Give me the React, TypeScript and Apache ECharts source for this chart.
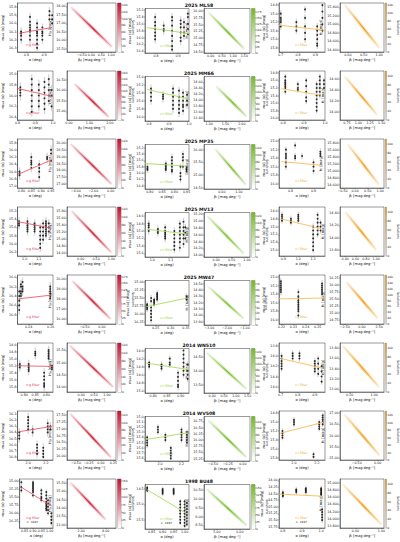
import React, { useEffect, useRef } from "react";
import * as echarts from "echarts";

const OBJECTS = ["2025 ML58", "2025 MM66", "2025 MP35", "2025 MV13", "2025 MW47", "2014 WN510", "2014 WV508", "1998 BU48"];

// ---------------- g filter ----------------
const gStacks: number[][][] = [
  [[0.77, 16.1, 16.15, 16.2, 16.12], [0.82, 15.92, 15.98, 16.02, 16.05, 16.08, 16.1, 16.15, 16.2], [0.86, 16.0, 16.05, 16.1, 16.12, 16.15, 16.2, 16.25, 16.3], [0.89, 16.05, 16.1, 16.12, 16.15, 16.2], [0.93, 15.85, 15.9, 15.95], [0.945, 15.9, 15.95, 16.0]],
  [[0.816, 15.85, 15.9, 15.95, 16.0], [0.88, 15.7, 15.8, 15.9, 16.0, 16.1, 16.2, 16.3], [0.92, 15.8, 15.9, 16.0, 16.1, 16.2], [0.952, 15.75, 15.85, 15.95, 16.05, 16.15, 16.25], [0.976, 15.7, 15.8, 15.9, 16.0, 16.1], [0.992, 15.9, 16.0, 16.2]],
  [[0.79, 16.6, 16.65, 16.7], [0.85, 16.2, 16.3, 16.35, 16.4, 16.5], [0.89, 16.4, 16.5, 16.6, 16.75], [0.93, 16.2, 16.25], [0.95, 16.0, 16.1, 16.3]],
  [[0.96, 15.45, 15.5, 15.55], [1.02, 15.45, 15.5, 15.55, 15.6, 15.65, 15.7], [1.07, 15.5, 15.55, 15.6, 15.65, 15.7], [1.11, 15.6, 15.7, 15.8, 15.9, 16.0, 16.1], [1.13, 15.5, 15.6, 15.7, 15.8, 15.9], [1.15, 15.45, 15.5, 15.55, 15.6, 15.65, 15.7, 15.75, 15.8], [1.17, 15.5, 15.6, 15.7]],
  [[0.2315, 16.3, 16.4, 16.5, 16.6, 16.7], [0.233, 16.15, 16.2, 16.3, 16.35, 16.4], [0.2345, 16.1, 16.2, 16.25, 16.3], [0.2595, 16.2, 16.25, 16.3, 16.35, 16.4, 16.45]],
  [[0.78, 15.15, 15.2, 15.25], [0.82, 15.15, 15.2, 15.25, 15.3, 15.35], [0.85, 14.8, 14.85, 14.9], [0.89, 15.4, 15.5, 15.6, 15.7, 15.75, 15.8], [0.91, 14.75, 14.8, 14.85, 14.9, 14.95, 15.0], [0.925, 15.2, 15.25, 15.3]],
  [[1.9, 16.4, 16.45, 16.5], [2.0, 16.15, 16.2, 16.25, 16.3, 16.35], [2.05, 16.35, 16.4], [2.1, 16.6, 16.65, 16.7, 16.75], [2.17, 16.65, 16.7, 16.75, 16.8], [2.22, 16.25, 16.3, 16.35, 16.4], [2.25, 16.3, 16.35]],
  [[0.83, 15.05, 15.2, 15.3], [0.9, 15.05, 15.1, 15.15, 15.2, 15.25, 15.3, 15.35, 15.45], [0.95, 15.3, 15.4, 15.5, 15.55, 15.6], [0.98, 15.35, 15.45, 15.55, 15.65, 15.7, 15.75, 15.8, 15.85, 15.9], [0.99, 15.6, 15.7, 15.8, 15.9, 16.0], [1.01, 16.0, 16.1, 16.2, 16.3]],
];
const gErr = [0.05, 0.09, 0.12, 0.1, 0.1, 0.12, 0.07, 0.08];
const gFit = [[0.76, 16.12, 0.945, 16.05], [0.8, 15.87, 1.0, 16.02], [0.785, 16.67, 0.955, 16.27], [0.955, 15.46, 1.19, 15.62], [0.231, 16.46, 0.261, 16.38], [0.775, 15.2, 0.928, 15.22], [1.89, 16.39, 2.27, 16.3], [0.83, 15.2, 1.01, 15.78]];
const gScXRange = [[0.75, 0.95], [0.8, 1.0], [0.78, 0.96], [0.95, 1.2], [0.23, 0.262], [0.77, 0.93], [1.88, 2.28], [0.82, 1.02]];
const gScXTicks = [[0.8, 0.9], [0.8, 0.9, 1.0], [0.8, 0.85, 0.9, 0.95], [1.0, 1.1], [0.24, 0.26], [0.8, 0.85, 0.9], [2.0, 2.2], [0.85, 0.9, 0.95, 1.0]];
const gScYRange = [[15.75, 16.35], [15.55, 16.45], [15.7, 17.05], [15.1, 16.3], [15.95, 17.0], [14.55, 15.95], [16.05, 16.85], [14.95, 16.45]];
const gScYTicks = [[15.8, 15.9, 16.0, 16.1, 16.2, 16.3], [15.6, 15.8, 16.0, 16.2, 16.4], [15.8, 16.0, 16.2, 16.4, 16.6, 16.8, 17.0], [15.2, 15.4, 15.6, 15.8, 16.0, 16.2], [16.0, 16.2, 16.4, 16.6, 16.8], [14.6, 14.8, 15.0, 15.2, 15.4, 15.6, 15.8], [16.1, 16.2, 16.3, 16.4, 16.5, 16.6, 16.7, 16.8], [15.0, 15.25, 15.5, 15.75, 16.0, 16.25]];
const gDenXRange = [[-1.25, 1.25], [-0.1, 2.3], [-5.0, 0.6], [-0.45, 1.15], [-1.0, 0.4], [-0.55, 1.35], [-0.68, 0.3], [0.84, 4.84]];
const gDenXTicks = [[-1.0, -0.5, 0.0, 0.5, 1.0], [0.0, 1.0, 2.0], [-4.0, -2.0, 0.0], [0.0, 0.5, 1.0], [-0.5, 0.0], [0.0, 0.5, 1.0], [-0.5, -0.25, 0.0, 0.25], [2.0, 4.0]];
const gDenYRange = [[15.3, 18.2], [14.6, 16.9], [16.7, 20.3], [14.5, 15.9], [15.5, 20.4], [13.8, 15.8], [15.85, 17.65], [12.8, 15.75]];
const gDenYTicks = [[15.5, 16.0, 16.5, 17.0, 17.5, 18.0], [15.0, 15.5, 16.0, 16.5], [17.0, 17.5, 18.0, 18.5, 19.0, 19.5, 20.0], [14.6, 14.8, 15.0, 15.2, 15.4, 15.6, 15.8], [16.0, 17.0, 18.0, 19.0, 20.0], [14.0, 14.5, 15.0, 15.5], [16.0, 16.25, 16.5, 16.75, 17.0, 17.25, 17.5], [13.0, 13.5, 14.0, 14.5, 15.0, 15.5]];
const gDenYDec = [2, 2, 2, 2, 2, 2, 2, 2];
const gBand = [[-1.05, 17.95, 1.05, 15.6], [0.26, 16.3, 1.95, 14.74], [-4.6, 19.94, 0.1, 16.99], [-0.3, 15.78, 1.0, 14.6], [-0.85, 19.8, 0.25, 16.0], [-0.45, 15.7, 1.25, 14.0], [-0.62, 17.55, 0.2, 15.95], [1.1, 15.55, 4.0, 13.3]];
const gCbar = [[145, 20], [165, 20], [125, 20], [125, 20], [180, 25], [125, 20], [130, 20], [155, 25]];

// ---------------- r filter ----------------
const rStacks: number[][][] = [
  [[0.796, 15.4, 15.55, 15.65, 15.75, 15.85, 15.95, 16.05], [0.835, 15.65, 15.75, 15.8], [0.873, 15.4, 15.5, 15.65, 15.8, 15.95, 16.1, 16.25, 16.35], [0.912, 15.5, 15.6, 15.7, 15.85, 16.0, 16.1], [0.927, 15.55, 15.7, 15.85, 15.95], [0.945, 15.3, 15.4, 15.6, 15.75, 15.9]],
  [[0.81, 15.3, 15.4, 15.5, 15.6], [0.87, 15.45, 15.5, 15.55], [0.92, 15.3, 15.4, 15.5, 15.6, 15.7, 15.8], [0.95, 15.35, 15.5, 15.6, 15.7, 15.8, 15.9], [0.97, 15.4, 15.5, 15.6, 15.7, 15.75, 15.85], [0.99, 15.45, 15.6, 15.7]],
  [[0.79, 15.8, 15.85, 15.9], [0.865, 15.7, 15.75, 15.8, 15.85, 15.9], [0.89, 15.5, 15.6, 15.7, 15.8, 15.9, 15.95], [0.925, 15.8, 16.0, 16.1, 16.2], [0.935, 15.4, 15.5, 15.6, 15.8], [0.95, 15.8, 15.85, 15.9, 15.95]],
  [[0.98, 14.8, 14.85, 14.9, 15.0], [1.03, 14.95, 15.0, 15.05], [1.07, 14.9, 15.0, 15.05, 15.1, 15.15, 15.2], [1.12, 15.0, 15.1, 15.2, 15.3, 15.4, 15.5], [1.15, 14.8, 14.9, 15.0, 15.1, 15.2, 15.3, 15.45], [1.17, 14.75, 14.9, 15.0, 15.1, 15.2, 15.35], [1.18, 14.9, 15.05, 15.2]],
  [[0.222, 15.7, 15.75, 15.8, 15.85], [0.235, 15.5, 15.6, 15.8, 15.9, 16.0, 16.1, 16.2], [0.245, 15.55, 15.6, 15.65, 15.7], [0.255, 15.35, 15.4, 15.45, 15.5, 15.55], [0.352, 15.45, 15.5, 15.55]],
  [[0.785, 14.3, 14.35, 14.4], [0.83, 14.35, 14.4, 14.45], [0.86, 14.2, 14.3, 14.35], [0.89, 14.55, 14.65, 14.75, 14.85, 14.9], [0.91, 14.0, 14.1, 14.2, 14.3, 14.4, 14.5, 14.6], [0.925, 14.35, 14.5, 14.6, 14.7]],
  [[1.88, 15.4, 15.45, 15.5, 15.55], [1.98, 15.2, 15.25, 15.3], [2.05, 15.35, 15.4, 15.45], [2.1, 15.6, 15.65, 15.7, 15.75, 15.8], [2.2, 15.25, 15.3, 15.35, 15.4, 15.45], [2.25, 15.3, 15.35, 15.4, 15.45, 15.5]],
  [[0.83, 14.45, 14.5, 14.55], [0.9, 14.5, 14.55, 14.6, 14.65], [0.95, 14.5, 14.55, 14.6, 14.65], [0.98, 14.9, 15.0, 15.1, 15.2, 15.3, 15.4, 15.5, 15.6], [1.0, 14.9, 15.0, 15.1, 15.2, 15.3, 15.4, 15.5, 15.6, 15.7], [1.01, 14.95, 15.05, 15.15, 15.25, 15.35, 15.45, 15.55, 15.65]],
];
const rErr = [0.12, 0.1, 0.1, 0.1, 0.1, 0.08, 0.05, 0.08];
const rFit = [[0.76, 15.71, 0.95, 15.88], [0.79, 15.32, 0.995, 15.55], [0.78, 15.7, 0.955, 15.78], [0.97, 14.95, 1.19, 15.08], [0.22, 15.77, 0.355, 15.5], [0.775, 14.31, 0.928, 14.47], [1.87, 15.44, 2.26, 15.31], [0.83, 14.52, 1.01, 15.3]];
const rScXRange = [[0.75, 0.95], [0.78, 1.0], [0.78, 0.96], [0.96, 1.2], [0.215, 0.36], [0.77, 0.93], [1.86, 2.27], [0.82, 1.02]];
const rScXTicks = [[0.8, 0.9], [0.8, 0.9, 1.0], [0.8, 0.85, 0.9, 0.95], [1.0, 1.1], [0.25, 0.3, 0.35], [0.8, 0.85, 0.9], [2.0, 2.2], [0.85, 0.9, 0.95, 1.0]];
const rScYRange = [[15.15, 16.45], [15.0, 16.1], [15.1, 16.5], [14.5, 15.7], [14.95, 16.35], [13.95, 15.05], [15.0, 15.85], [14.35, 15.8]];
const rScYTicks = [[15.2, 15.4, 15.6, 15.8, 16.0, 16.2, 16.4], [15.0, 15.2, 15.4, 15.6, 15.8, 16.0], [15.2, 15.4, 15.6, 15.8, 16.0, 16.2, 16.4], [14.6, 14.8, 15.0, 15.2, 15.4, 15.6], [15.0, 15.25, 15.5, 15.75, 16.0, 16.25], [14.0, 14.2, 14.4, 14.6, 14.8, 15.0], [15.0, 15.1, 15.2, 15.3, 15.4, 15.5, 15.6, 15.7, 15.8], [14.5, 15.0, 15.5]];
const rDenXRange = [[-0.3, 1.75], [0.84, 2.25], [-1.05, 1.65], [-0.4, 1.1], [-3.3, -0.7], [-0.35, 1.6], [-0.65, 0.12], [4.44, 6.44]];
const rDenXTicks = [[0.0, 0.5, 1.0, 1.5], [1.0, 1.5, 2.0], [0.0, 1.0], [0.0, 0.5, 1.0], [-3.0, -2.0, -1.0], [0.0, 0.5, 1.0, 1.5], [-0.5, -0.25, 0.0], [5.0, 6.0]];
const rDenYRange = [[14.45, 16.1], [13.3, 14.8], [14.45, 16.2], [13.95, 15.25], [13.85, 14.55], [13.2, 14.8], [15.15, 16.95], [8.3, 10.8]];
const rDenYTicks = [[14.5, 14.75, 15.0, 15.25, 15.5, 15.75, 16.0], [13.4, 13.6, 13.8, 14.0, 14.2, 14.4, 14.6], [14.5, 15.0, 15.5, 16.0], [14.0, 14.2, 14.4, 14.6, 14.8, 15.0, 15.2], [13.9, 14.0, 14.1, 14.2, 14.3, 14.4, 14.5], [13.5, 14.0, 14.5], [15.25, 15.5, 15.75, 16.0, 16.25, 16.5, 16.75], [8.5, 9.0, 9.5, 10.0, 10.5]];
const rDenYDec = [2, 2, 2, 2, 2, 2, 2, 2];
const rBand = [[-0.1, 15.95, 1.5, 14.6], [1.21, 14.47, 2.15, 13.45], [-0.4, 16.02, 1.41, 14.62], [-0.3, 15.15, 0.9, 14.05], [-3.05, 14.45, -1.05, 13.95], [-0.25, 14.65, 1.45, 13.35], [-0.58, 16.8, 0.06, 15.3], [4.55, 10.55, 6.3, 8.5]];
const rCbar = [[190, 25], [150, 20], [130, 20], [130, 20], [75, 10], [150, 20], [135, 20], [160, 25]];

// ---------------- i filter ----------------
const iStacks: number[][][] = [
  [[0.7, 15.0, 15.1, 15.15, 15.2, 15.3], [0.79, 15.2, 15.3, 15.4], [0.84, 14.9, 15.1, 15.3, 15.45, 15.6], [0.91, 15.3, 15.4, 15.5, 15.6, 15.7, 15.75], [0.94, 14.8, 14.95, 15.1, 15.25, 15.4]],
  [[0.81, 14.9, 15.0, 15.05, 15.1, 15.15, 15.2, 15.3], [0.87, 15.1, 15.2, 15.25], [0.91, 15.0, 15.15, 15.3, 15.45, 15.55], [0.96, 15.1, 15.2, 15.3, 15.4, 15.5, 15.6, 15.7, 15.8], [0.975, 14.9, 15.0, 15.1, 15.2, 15.3, 15.4], [0.995, 15.0, 15.1, 15.2]],
  [[0.78, 15.2, 15.3, 15.35, 15.4, 15.5, 15.6], [0.82, 15.1, 15.35, 15.4], [0.85, 15.35], [0.9, 15.5, 15.6, 15.7], [0.93, 15.25, 15.3, 15.35]],
  [[0.89, 14.7, 14.75, 14.8, 14.85], [0.95, 14.8, 14.85, 14.9], [1.0, 14.7, 14.75, 14.8, 14.85], [1.1, 15.0, 15.1, 15.2, 15.3, 15.4, 15.5, 15.6], [1.13, 14.7, 14.8, 14.9, 15.0, 15.1, 15.2], [1.15, 14.9, 15.0, 15.1]],
  [[0.2195, 15.1, 15.15, 15.2, 15.25, 15.3, 15.35], [0.234, 15.35, 15.45, 15.5, 15.55, 15.6, 15.65, 15.7, 15.75, 15.8, 15.9], [0.2535, 15.15, 15.2, 15.25, 15.3, 15.35, 15.4]],
  [[0.705, 14.0, 14.05, 14.1, 14.15, 14.2, 14.25], [0.77, 13.95, 14.0, 14.05], [0.81, 13.95, 14.0, 14.05], [0.9, 14.1, 14.15, 14.2, 14.25, 14.3], [0.92, 14.05, 14.15, 14.25, 14.35], [0.94, 14.2, 14.3, 14.4, 14.5]],
  [[1.9, 15.2, 15.25, 15.3, 15.35], [2.0, 14.95, 15.0, 15.05], [2.17, 15.72, 15.78], [2.22, 15.0, 15.05, 15.1, 15.15], [2.25, 14.85, 14.9, 14.95, 15.0, 15.05]],
  [[0.8, 14.45, 14.5, 14.55, 14.6], [0.87, 14.35, 14.4, 14.45], [0.92, 14.3, 14.35, 14.4, 14.45], [1.0, 14.3, 14.35, 14.4, 14.45, 14.5, 14.55], [1.005, 15.1, 15.2, 15.3, 15.4, 15.5]],
];
const iErr = [0.08, 0.08, 0.08, 0.08, 0.08, 0.06, 0.06, 0.1];
const iFit = [[0.69, 15.27, 0.955, 15.39], [0.79, 15.22, 0.98, 15.39], [0.76, 15.48, 0.94, 15.57], [0.88, 14.8, 1.15, 15.05], [0.218, 15.51, 0.256, 15.49], [0.7, 14.05, 0.95, 14.24], [1.88, 15.25, 2.26, 15.0], [0.78, 14.52, 1.01, 14.6]];
const iScXRange = [[0.69, 0.955], [0.78, 1.0], [0.75, 0.95], [0.87, 1.18], [0.218, 0.256], [0.69, 0.96], [1.87, 2.27], [0.78, 1.02]];
const iScXTicks = [[0.7, 0.8, 0.9], [0.8, 0.9, 1.0], [0.8, 0.9], [0.9, 1.0, 1.1], [0.22, 0.23, 0.24, 0.25], [0.7, 0.8, 0.9], [2.0, 2.2], [0.8, 0.9, 1.0]];
const iScYRange = [[14.75, 15.9], [14.75, 16.05], [14.95, 16.1], [14.5, 15.75], [14.95, 16.1], [13.75, 14.7], [14.75, 15.85], [13.95, 15.8]];
const iScYTicks = [[14.8, 15.0, 15.2, 15.4, 15.6, 15.8], [14.8, 15.0, 15.2, 15.4, 15.6, 15.8, 16.0], [15.0, 15.2, 15.4, 15.6, 15.8, 16.0], [14.6, 14.8, 15.0, 15.2, 15.4, 15.6], [15.0, 15.2, 15.4, 15.6, 15.8, 16.0], [13.8, 14.0, 14.2, 14.4, 14.6], [14.8, 15.0, 15.2, 15.4, 15.6, 15.8], [14.0, 14.25, 14.5, 14.75, 15.0, 15.25, 15.5, 15.75]];
const iDenXRange = [[-0.25, 1.15], [0.6, 1.55], [-0.6, 1.15], [0.3, 1.15], [-3.2, 3.2], [0.3, 1.2], [-0.9, 0.15], [-0.6, 1.1]];
const iDenXTicks = [[0.0, 0.5, 1.0], [0.75, 1.0, 1.25, 1.5], [-0.5, 0.0, 0.5, 1.0], [0.4, 0.6, 0.8, 1.0], [-2.5, 0.0, 2.5], [0.5, 1.0], [-0.5, 0.0], [0.0, 1.0]];
const iDenYRange = [[14.35, 15.5], [13.85, 14.75], [14.5, 15.9], [13.7, 14.5], [14.6, 16.35], [12.95, 13.9], [14.9, 17.1], [13.75, 15.1]];
const iDenYTicks = [[14.4, 14.6, 14.8, 15.0, 15.2, 15.4], [14.0, 14.2, 14.4, 14.6], [14.6, 14.8, 15.0, 15.2, 15.4, 15.6, 15.8], [13.8, 14.0, 14.2, 14.4], [14.75, 15.0, 15.25, 15.5, 15.75, 16.0, 16.25], [13.0, 13.2, 13.4, 13.6, 13.8], [15.0, 15.5, 16.0, 16.5, 17.0], [13.8, 14.0, 14.2, 14.4, 14.6, 14.8, 15.0]];
const iDenYDec = [3, 2, 3, 2, 2, 2, 2, 3];
const iBand = [[-0.1, 15.45, 1.0, 14.45], [0.7, 14.65, 1.4, 13.95], [-0.3, 15.75, 0.95, 14.6], [0.4, 14.42, 1.0, 13.8], [-2.3, 16.1, 2.3, 14.8], [0.35, 13.85, 1.1, 13.05], [-0.8, 16.95, 0.05, 15.1], [-0.5, 14.95, 1.0, 13.85]];
const iCbar = [[125, 20], [110, 20], [110, 20], [110, 20], [165, 20], [110, 20], [130, 20], [110, 20]];

// ---------------- styling / layout ----------------
const FONT = "DejaVu Sans";
const FILTER_NAMES = ["g", "r", "i"];
const TEXT_COL = ["#e8334a", "#8ccf3a", "#f7a928"];
const LINE_COL = ["#f05a6c", "#a6dc5e", "#fbbb58"];
const BAND_RGB = [[206, 20, 40], [110, 185, 30], [240, 150, 10]];
const CB_TOP = ["#c8102e", "#70bb22", "#f29a00"];
const ROW0 = 3;
const PITCH = 68;
const SC_LEFT = [13, 145, 279];
const SC_W = [40, 44, 46];
const DEN_LEFT = [67, 204, 340];
const DEN_W = [49, 46, 44];
const CB_LEFT = [117.5, 251.5, 385.5];
const CB_W = 3.5;
const TICK_FS = 3.3;
const NAME_FS = 3.6;

function decOf(v: number) {
  const s = String(+v.toFixed(6));
  const k = s.indexOf(".");
  return k < 0 ? 0 : s.length - k - 1;
}
function maxDec(t: number[]) {
  return Math.max(1, ...t.map(decOf));
}
function labelWidth(s: string, fs: number) {
  let w = 0;
  for (const c of s) w += c === "." ? 0.318 : c === "-" || c === "−" ? 0.42 : 0.636;
  return w * fs;
}

const FILTERS = [
  { stacks: gStacks, err: gErr, fit: gFit, scX: gScXRange, scXT: gScXTicks, scY: gScYRange, scYT: gScYTicks, dX: gDenXRange, dXT: gDenXTicks, dY: gDenYRange, dYT: gDenYTicks, dYD: gDenYDec, band: gBand, cb: gCbar },
  { stacks: rStacks, err: rErr, fit: rFit, scX: rScXRange, scXT: rScXTicks, scY: rScYRange, scYT: rScYTicks, dX: rDenXRange, dXT: rDenXTicks, dY: rDenYRange, dYT: rDenYTicks, dYD: rDenYDec, band: rBand, cb: rCbar },
  { stacks: iStacks, err: iErr, fit: iFit, scX: iScXRange, scXT: iScXTicks, scY: iScYRange, scYT: iScYTicks, dX: iDenXRange, dXT: iDenXTicks, dY: iDenYRange, dYT: iDenYTicks, dYD: iDenYDec, band: iBand, cb: iCbar },
];

function fmt(v: number, d: number) {
  return v.toFixed(d).replace("-", "−");
}

function valueAxis(gridIndex: number, min: number, max: number, ticks: number[], dec: number, extra: any = {}) {
  return {
    type: "value",
    gridIndex,
    min,
    max,
    splitLine: { show: false },
    axisLine: { show: true, onZero: false, lineStyle: { color: "#333", width: 0.5 } },
    axisTick: { show: true, length: 1.2, customValues: ticks, lineStyle: { color: "#333", width: 0.4 } },
    axisLabel: {
      show: true,
      customValues: ticks,
      fontSize: TICK_FS,
      fontFamily: FONT,
      color: "#222",
      margin: 1.3,
      formatter: (v: number) => fmt(v, dec),
    },
    nameTextStyle: { fontSize: NAME_FS, fontFamily: FONT, color: "#111" },
    ...extra,
  };
}

function buildOption() {
  const grid: any[] = [];
  const xAxis: any[] = [];
  const yAxis: any[] = [];
  const series: any[] = [];
  const graphic: any[] = [];

  for (let i = 0; i < OBJECTS.length; i++) {
    const rowTop = ROW0 + PITCH * i;
    graphic.push({
      type: "text",
      x: 199,
      y: rowTop + 0.3,
      style: { text: OBJECTS[i], fontSize: 4.6, fontWeight: "bold", fontFamily: FONT, fill: "#111", align: "center", verticalAlign: "top" },
    });

    FILTERS.forEach((F, f) => {
      const top = rowTop + (f === 1 ? 5.5 : 0);
      const h = f === 1 ? 44.5 : 49;
      const fname = FILTER_NAMES[f];

      // ---- scatter panel ----
      const gs = grid.length;
      grid.push({ left: SC_LEFT[f], top, width: SC_W[f], height: h, show: true, borderColor: "#333", borderWidth: 0.5, backgroundColor: "#fff" });
      const xd = maxDec(F.scXT[i]);
      const yd = maxDec(F.scYT[i]);
      xAxis.push(valueAxis(gs, F.scX[i][0], F.scX[i][1], F.scXT[i], xd, { name: "α (deg)", nameLocation: "middle", nameGap: 6.2 }));
      const yLabW = Math.max(...F.scYT[i].map((v) => labelWidth(fmt(v, yd), TICK_FS)));
      yAxis.push(
        valueAxis(gs, F.scY[i][0], F.scY[i][1], F.scYT[i], yd, {
          inverse: true,
          name: "{a|m}{b|red} (α) [mag]",
          nameLocation: "middle",
          nameGap: yLabW + 3.2,
          nameTextStyle: { fontSize: NAME_FS, fontFamily: FONT, color: "#111", rich: { a: { fontSize: NAME_FS, fontFamily: FONT }, b: { fontSize: 2.6, fontFamily: FONT, verticalAlign: "bottom" } } },
        })
      );
      const pts: number[][] = [];
      const errPts: number[][] = [];
      F.stacks[i].forEach((st) => {
        for (let k = 1; k < st.length; k++) {
          pts.push([st[0], st[k]]);
          errPts.push([st[0], st[k], F.err[i]]);
        }
      });
      series.push({
        type: "custom",
        xAxisIndex: gs,
        yAxisIndex: gs,
        clip: true,
        encode: { x: 0, y: 1 },
        data: errPts,
        renderItem: (_p: any, api: any) => {
          const x = api.value(0), y = api.value(1), e = api.value(2);
          const p1 = api.coord([x, y - e]);
          const p2 = api.coord([x, y + e]);
          return { type: "line", shape: { x1: p1[0], y1: p1[1], x2: p2[0], y2: p2[1] }, style: { stroke: "#d2d2d2", lineWidth: 1.2 } };
        },
        silent: true,
        z: 1,
      });
      series.push({ type: "scatter", xAxisIndex: gs, yAxisIndex: gs, data: pts, symbolSize: 1.9, itemStyle: { color: "#000" }, silent: true, z: 3 });
      const ft = F.fit[i];
      series.push({ type: "line", xAxisIndex: gs, yAxisIndex: gs, data: [[ft[0], ft[1]], [ft[2], ft[3]]], symbol: "none", lineStyle: { color: LINE_COL[f], width: 0.9 }, silent: true, z: 4 });

      // filter label (legend-like)
      const cx = SC_LEFT[f] + SC_W[f] * 0.5;
      const ly = top + h - (i === 7 ? 10 : 7);
      graphic.push({ type: "line", shape: { x1: cx - 7, y1: ly, x2: cx - 4.5, y2: ly }, style: { stroke: LINE_COL[f], lineWidth: 0.7 } });
      graphic.push({ type: "text", x: cx - 4, y: ly, style: { text: `${fname} filter`, fontSize: 3.2, fontFamily: FONT, fill: TEXT_COL[f], align: "left", verticalAlign: "middle" } });
      if (i === 7) {
        graphic.push({ type: "text", x: cx - 6.5, y: ly + 3.8, style: { text: "×  1997", fontSize: 2.9, fontFamily: FONT, fill: "#222", align: "left", verticalAlign: "middle" } });
      }

      // ---- density panel ----
      const gd = grid.length;
      grid.push({ left: DEN_LEFT[f], top, width: DEN_W[f], height: h, show: true, borderColor: "#333", borderWidth: 0.5, backgroundColor: "#fff" });
      xAxis.push(valueAxis(gd, F.dX[i][0], F.dX[i][1], F.dXT[i], 2, { name: `{a|β}{b|${fname}} [mag deg⁻¹]`, nameLocation: "middle", nameGap: 6.2, nameTextStyle: { fontSize: NAME_FS, fontFamily: FONT, color: "#111", rich: { a: { fontSize: NAME_FS, fontFamily: FONT }, b: { fontSize: 2.6, fontFamily: FONT, verticalAlign: "bottom" } } } }));
      const dyd = F.dYD[i];
      const dLabW = Math.max(...F.dYT[i].map((v) => labelWidth(fmt(v, dyd), TICK_FS)));
      yAxis.push(
        valueAxis(gd, F.dY[i][0], F.dY[i][1], F.dYT[i], dyd, {
          name: `{a|H}{b|${fname}} [mag]`,
          nameLocation: "middle",
          nameGap: dLabW + 3,
          nameTextStyle: { fontSize: NAME_FS, fontFamily: FONT, color: "#111", rich: { a: { fontSize: NAME_FS, fontFamily: FONT }, b: { fontSize: 2.6, fontFamily: FONT, verticalAlign: "bottom" } } },
        })
      );
      const b = F.band[i];
      const [cr, cg, cbb] = BAND_RGB[f];
      const rgba = (a: number) => `rgba(${cr},${cg},${cbb},${a})`;
      series.push({
        type: "line", xAxisIndex: gd, yAxisIndex: gd, data: [[b[0], b[1]], [b[2], b[3]]], symbol: "none", silent: true, z: 2,
        lineStyle: { width: 3.2, cap: "butt", color: { type: "linear", x: 0, y: 0, x2: 1, y2: 0, colorStops: [{ offset: 0, color: rgba(0.05) }, { offset: 0.55, color: rgba(0.38) }, { offset: 1, color: rgba(0.06) }] } },
      });
      series.push({
        type: "line", xAxisIndex: gd, yAxisIndex: gd, data: [[b[0], b[1]], [b[2], b[3]]], symbol: "none", silent: true, z: 3,
        lineStyle: { width: 1.2, cap: "butt", color: { type: "linear", x: 0, y: 0, x2: 1, y2: 0, colorStops: [{ offset: 0, color: rgba(0.1) }, { offset: 0.55, color: rgba(0.95) }, { offset: 1, color: rgba(0.15) }] } },
      });

      // ---- colorbar ----
      const gc = grid.length;
      grid.push({ left: CB_LEFT[f], top, width: CB_W, height: h, show: true, borderColor: "#333", borderWidth: 0.4, backgroundColor: "#fff" });
      xAxis.push({ type: "category", gridIndex: gc, data: ["s"], show: false });
      const cbMax = F.cb[i][0];
      const cbStep = F.cb[i][1];
      yAxis.push({
        type: "value",
        gridIndex: gc,
        min: 0,
        max: cbMax,
        interval: cbStep,
        position: "right",
        splitLine: { show: false },
        axisLine: { show: false },
        axisTick: { show: true, length: 1, lineStyle: { color: "#333", width: 0.4 } },
        axisLabel: { fontSize: 2.9, fontFamily: FONT, color: "#222", margin: 1, showMaxLabel: false },
        name: "Solutions",
        nameLocation: "middle",
        nameGap: 9,
        nameRotate: -90,
        nameTextStyle: { fontSize: 3.3, fontFamily: FONT, color: "#111" },
      });
      series.push({
        type: "bar", xAxisIndex: gc, yAxisIndex: gc, data: [cbMax], barWidth: "100%", silent: true,
        itemStyle: { color: { type: "linear", x: 0, y: 0, x2: 0, y2: 1, colorStops: [{ offset: 0, color: CB_TOP[f] }, { offset: 1, color: "#ffffff" }] } },
      });
    });
  }

  return { animation: false, backgroundColor: "#fff", grid, xAxis, yAxis, series, graphic };
}

export default function App() {
  const ref = useRef<HTMLDivElement>(null);
  useEffect(() => {
    if (!ref.current) return;
    const chart = echarts.init(ref.current, undefined, { renderer: "svg" });
    chart.setOption(buildOption() as any);
    return () => chart.dispose();
  }, []);
  return <div ref={ref} style={{ position: "absolute", left: 0, top: 0, width: 400, height: 542, background: "#fff" }} />;
}
